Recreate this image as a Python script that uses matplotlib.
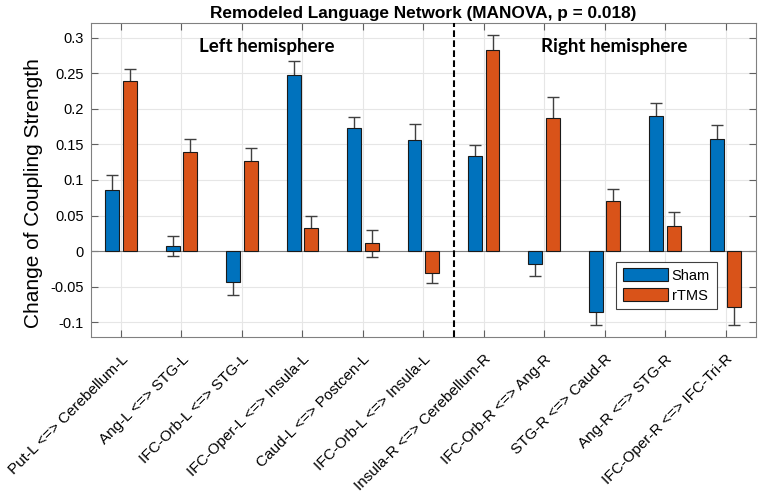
import matplotlib.pyplot as plt
import numpy as np
from matplotlib.transforms import ScaledTranslation

plt.rcParams["font.family"] = ["Liberation Sans", "DejaVu Sans"]

# connection labels
labels = [
    "Put-L <=> Cerebellum-L", "Ang-L <=> STG-L", "IFC-Orb-L <=> STG-L",
    "IFC-Oper-L <=> Insula-L", "Caud-L <=> Postcen-L", "IFC-Orb-L <=> Insula-L",
    "Insula-R <=> Cerebellum-R", "IFC-Orb-R <=> Ang-R", "STG-R <=> Caud-R",
    "Ang-R <=> STG-R", "IFC-Oper-R <=> IFC-Tri-R",
]

sham = [0.086, 0.007, -0.043, 0.248, 0.173, 0.156,
        0.134, -0.018, -0.085, 0.190, 0.157]
sham_err = [0.021, 0.014, 0.019, 0.019, 0.016, 0.022,
            0.015, 0.017, 0.018, 0.018, 0.020]
rtms = [0.239, 0.139, 0.127, 0.033, 0.011, -0.031,
        0.282, 0.187, 0.070, 0.036, -0.079]
rtms_err = [0.017, 0.018, 0.018, 0.016, 0.019, 0.013,
            0.022, 0.029, 0.018, 0.019, 0.025]

yticks = [-0.1, -0.05, 0, 0.05, 0.1, 0.15, 0.2, 0.25, 0.3]
ytick_labels = ["-0.1", "-0.05", "0", "0.05", "0.1", "0.15", "0.2", "0.25", "0.3"]

blue = "#0072BD"
orange = "#D95319"

fig = plt.figure(figsize=(7.65, 4.95), dpi=100)
ax = fig.add_axes([0.1186, 0.3198, 0.8694, 0.6332])

x = np.arange(1, len(labels) + 1)
w = 0.23
off = 0.145

# error bars go under the bars so only the outer half shows
ax.errorbar(x - off, sham, yerr=sham_err, fmt="none", ecolor="#404040",
            elinewidth=1, capsize=4, capthick=1, zorder=2)
ax.errorbar(x + off, rtms, yerr=rtms_err, fmt="none", ecolor="#404040",
            elinewidth=1, capsize=4, capthick=1, zorder=2)
ax.bar(x - off, sham, w, color=blue, edgecolor="#1a1a1a", linewidth=0.8,
       label="Sham", zorder=3)
ax.bar(x + off, rtms, w, color=orange, edgecolor="#1a1a1a", linewidth=0.8,
       label="rTMS", zorder=3)

ax.axhline(0, color="#808080", linewidth=0.8, zorder=2.5)
ax.axvline(6.5, color="black", linestyle=(0, (3.2, 1.6)), linewidth=1.5, zorder=4)

ax.set_xlim(0.5, len(labels) + 0.5)
ax.set_ylim(-0.12, 0.32)
ax.set_xticks(x)
ax.set_xticklabels(labels, rotation=45, ha="right", va="top",
                   rotation_mode="anchor", fontsize=11)
shift = ScaledTranslation(10 / 100, 0, fig.dpi_scale_trans)
for lab in ax.get_xticklabels():
    lab.set_transform(lab.get_transform() + shift)
ax.set_yticks(yticks)
ax.set_yticklabels(ytick_labels, fontsize=10.5)
ax.tick_params(direction="in", top=True, right=True, length=5,
               color="#606060", pad=5)
ax.tick_params(axis="x", pad=11)
ax.grid(True, color="#e6e6e6", linewidth=0.8, zorder=0)
ax.set_axisbelow(True)
for s in ax.spines.values():
    s.set_color("#808080")

ax.set_ylabel("Change of Coupling Strength", fontsize=15)
ax.yaxis.set_label_coords(-0.072, 0.4585)
ax.set_title("Remodeled Language Network (MANOVA, p = 0.018)",
             fontsize=12.4, fontweight="bold", pad=4)

ax.text(3.41, 0.287, "Left hemisphere", ha="center", va="center",
        fontsize=13.5, fontweight="bold", family=["Lato", "DejaVu Sans"])
ax.text(9.15, 0.287, "Right hemisphere", ha="center", va="center",
        fontsize=13.5, fontweight="bold", family=["Lato", "DejaVu Sans"])

leg = ax.legend(loc="lower right", bbox_to_anchor=(0.941, 0.088), fontsize=10.5,
                handlelength=3.1, handleheight=1.0, fancybox=False,
                framealpha=1, edgecolor="#404040", borderpad=0.45,
                labelspacing=0.35, handletextpad=0.25, borderaxespad=0)
leg.get_frame().set_linewidth(0.8)

fig.savefig("out.png", dpi=100)
